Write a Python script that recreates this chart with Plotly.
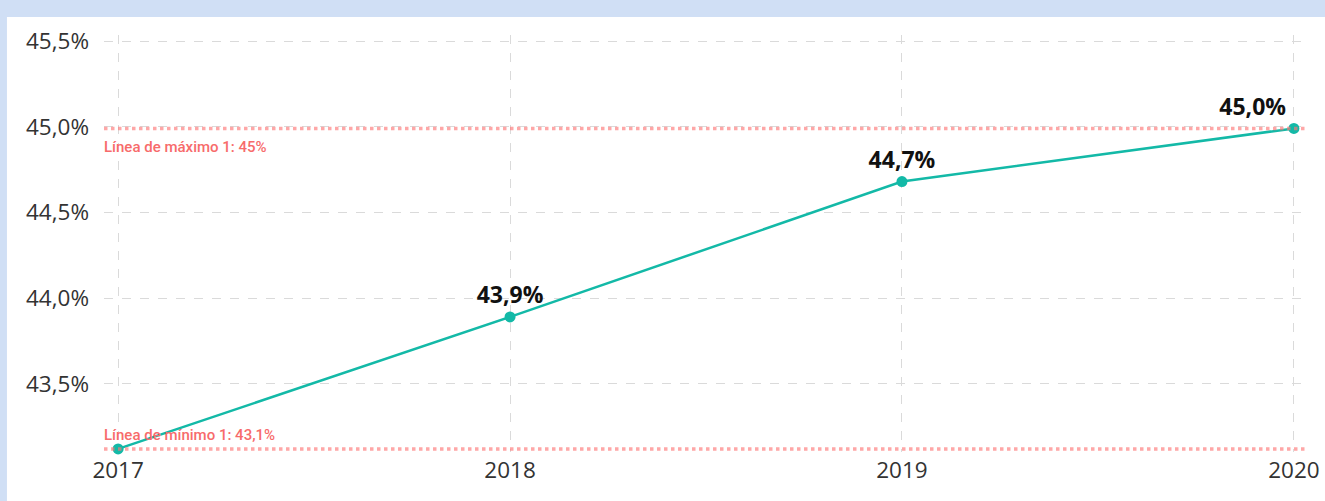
import plotly.graph_objects as go

years = [2017, 2018, 2019, 2020]
values = [43.12, 43.89, 44.68, 44.99]
y_ticks = [43.5, 44.0, 44.5, 45.0, 45.5]

max_line = max(values)
min_line = min(values)
max_label = "Línea de máximo 1: 45%"
min_label = "Línea de mínimo 1: 43,1%"


def pct(v):
    return f"{v:.1f}%".replace(".", ",")


# etiquetas de datos (la de 2017 no se ve en el original)
labels = [""] + [pct(v) for v in values[1:]]
# la última se corre a la izquierda para que quepa
label_pos = ["top center"] * (len(values) - 1) + ["top left"]

teal = "#13B9A7"
ref_color = "rgba(253,120,120,0.65)"
ref_text = "#F76B6B"

fig = go.Figure()

fig.add_trace(go.Scatter(
    x=years, y=values,
    mode="lines+markers+text",
    line=dict(color=teal, width=2.5),
    marker=dict(color=teal, size=11),
    text=labels,
    textposition=label_pos,
    textfont=dict(family="Open Sans", size=23, color="#111111", weight="bold"),
    cliponaxis=False,
    hoverinfo="skip",
))

# fondo blanco del visual sobre el marco azul
fig.add_shape(type="rect", xref="paper", yref="paper",
              x0=-0.0806, x1=1.2, y0=-0.3, y1=1.043,
              fillcolor="white", line=dict(width=0), layer="below")

# líneas de máximo y mínimo
for v in (max_line, min_line):
    fig.add_shape(type="line", xref="paper", yref="y",
                  x0=0, x1=1, y0=v, y1=v,
                  line=dict(color=ref_color, width=3.5, dash="dot"),
                  layer="above")

fig.add_annotation(x=0, xref="paper", y=max_line, yref="y",
                   text=max_label, showarrow=False,
                   xanchor="left", yanchor="top", yshift=-8, xshift=-2,
                   font=dict(family="Roboto", size=15, color=ref_text, weight=500))
fig.add_annotation(x=0, xref="paper", y=min_line, yref="y",
                   text=min_label, showarrow=False,
                   xanchor="left", yanchor="bottom", yshift=3, xshift=-2,
                   font=dict(family="Roboto", size=15, color=ref_text, weight=500))

fig.update_xaxes(
    range=[2016.964, 2020.036],
    tickvals=years,
    showgrid=True, gridcolor="#DADADA", griddash="dash", gridwidth=1,
    zeroline=False, showline=False, ticks="",
    tickfont=dict(family="Open Sans", size=22.5, color="#333333"),
    ticklabelstandoff=2,
    automargin=False,
)
fig.update_yaxes(
    range=[43.102, 45.535],
    tickvals=y_ticks,
    ticktext=[pct(t) for t in y_ticks],
    showgrid=True, gridcolor="#DADADA", griddash="dash", gridwidth=1,
    zeroline=False, showline=False, ticks="",
    tickfont=dict(family="Open Sans", size=22.5, color="#333333"),
    ticklabelstandoff=14,
    automargin=False,
)

fig.update_layout(
    width=1325, height=501,
    margin=dict(l=104, r=17, t=35, b=49),
    paper_bgcolor="#D0DFF5",
    plot_bgcolor="white",
    separators=",.",
    showlegend=False,
)

fig.write_html("out.html", config={"displayModeBar": False},
               post_script="document.body.style.margin='0';")
